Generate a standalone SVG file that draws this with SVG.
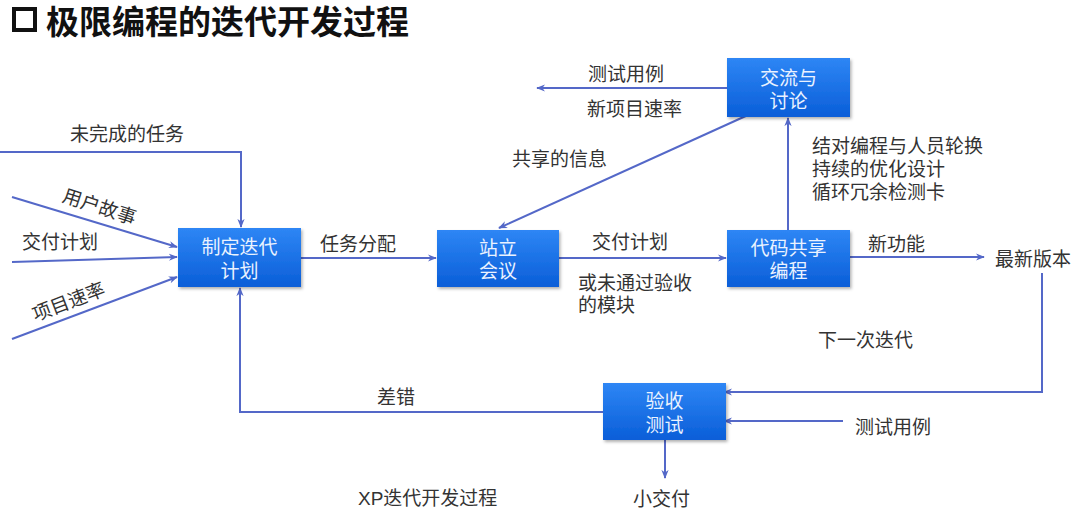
<svg xmlns="http://www.w3.org/2000/svg" width="1076" height="512" viewBox="0 0 1076 512">
<defs>
<linearGradient id="bg" x1="0" y1="0" x2="0" y2="1">
<stop offset="0" stop-color="#2E86F5"/>
<stop offset="1" stop-color="#0A5ED8"/>
</linearGradient>
<filter id="sh" x="-10%" y="-10%" width="125%" height="130%">
<feDropShadow dx="1.5" dy="2" stdDeviation="1.5" flood-color="#000" flood-opacity="0.3"/>
</filter>
<marker id="ah" viewBox="0 0 10 10" refX="9" refY="5" markerWidth="9" markerHeight="9" markerUnits="userSpaceOnUse" orient="auto">
<path d="M0,1 L10,5 L0,9 L3,5 Z" fill="#5468C8"/>
</marker>
<style>
text{font-family:"Noto Sans CJK SC","Microsoft YaHei",sans-serif;}
.lbl{font-size:19px;fill:#333;dominant-baseline:central;}
.bt{font-size:19px;fill:#EAF2FF;text-anchor:middle;dominant-baseline:central;}
.box{fill:url(#bg);filter:url(#sh);}
.ln{fill:none;stroke:#5468C8;stroke-width:2;}
.arr{marker-end:url(#ah);}
</style>
</defs>
<rect width="1076" height="512" fill="#fff"/>
<g id="title">
<rect x="14" y="9" width="21" height="21" fill="none" stroke="#111" stroke-width="4"/>
<text x="46" y="20" style="font-size:33px;font-weight:bold;fill:#111;dominant-baseline:central;">极限编程的迭代开发过程</text>
</g>
<g id="connectors">
<polyline class="ln arr" points="0,152 241,152 241,227"/>
<line class="ln arr" x1="12" y1="197" x2="177" y2="247"/>
<line class="ln arr" x1="12" y1="262" x2="177" y2="257"/>
<line class="ln arr" x1="12" y1="339" x2="177" y2="277"/>
<line class="ln arr" x1="301" y1="258" x2="436" y2="258"/>
<line class="ln arr" x1="559" y1="258" x2="726" y2="258"/>
<line class="ln arr" x1="850" y1="257" x2="984" y2="257"/>
<line class="ln arr" x1="788" y1="230" x2="788" y2="118"/>
<line class="ln arr" x1="727" y1="88" x2="537" y2="88"/>
<line class="ln arr" x1="748" y1="115" x2="499" y2="228"/>
<polyline class="ln arr" points="1042,273 1042,392 724,392"/>
<line class="ln arr" x1="843" y1="421" x2="724" y2="421"/>
<polyline class="ln arr" points="603,412 240,412 240,288"/>
<line class="ln arr" x1="665" y1="440" x2="665" y2="478"/>
</g>
<g id="plan">
<rect class="box" x="178" y="228" width="123" height="59"/>
<text class="bt" x="239.5" y="245">制定迭代</text>
<text class="bt" x="239.5" y="269">计划</text>
</g>
<g id="standup">
<rect class="box" x="437" y="230" width="122" height="57"/>
<text class="bt" x="498" y="246">站立</text>
<text class="bt" x="498" y="269">会议</text>
</g>
<g id="code">
<rect class="box" x="727" y="230" width="123" height="57"/>
<text class="bt" x="788.5" y="246">代码共享</text>
<text class="bt" x="788.5" y="269">编程</text>
</g>
<g id="discuss">
<rect class="box" x="727" y="58" width="123" height="59"/>
<text class="bt" x="788.5" y="76">交流与</text>
<text class="bt" x="788.5" y="99">讨论</text>
</g>
<g id="accept">
<rect class="box" x="603" y="383" width="123" height="57"/>
<text class="bt" x="664.5" y="399">验收</text>
<text class="bt" x="664.5" y="423">测试</text>
</g>
<g id="labels">
<text class="lbl" x="70" y="132">未完成的任务</text>
<text class="lbl" x="100" y="205" text-anchor="middle" transform="rotate(18 100 205)">用户故事</text>
<text class="lbl" x="22" y="240">交付计划</text>
<text class="lbl" x="68" y="300" text-anchor="middle" transform="rotate(-21 68 300)">项目速率</text>
<text class="lbl" x="320" y="242">任务分配</text>
<text class="lbl" x="592" y="240">交付计划</text>
<text class="lbl" x="578" y="281">或未通过验收</text>
<text class="lbl" x="578" y="303">的模块</text>
<text class="lbl" x="588" y="72">测试用例</text>
<text class="lbl" x="587" y="107">新项目速率</text>
<text class="lbl" x="512" y="157">共享的信息</text>
<text class="lbl" x="812" y="144">结对编程与人员轮换</text>
<text class="lbl" x="812" y="167">持续的优化设计</text>
<text class="lbl" x="812" y="190">循环冗余检测卡</text>
<text class="lbl" x="868" y="242">新功能</text>
<text class="lbl" x="995" y="257">最新版本</text>
<text class="lbl" x="818" y="338">下一次迭代</text>
<text class="lbl" x="377" y="395">差错</text>
<text class="lbl" x="855" y="425">测试用例</text>
<text class="lbl" x="358" y="498" style="font-family:'Liberation Sans','Noto Sans CJK SC',sans-serif;">XP迭代开发过程</text>
<text class="lbl" x="633" y="497">小交付</text>
</g>
</svg>
